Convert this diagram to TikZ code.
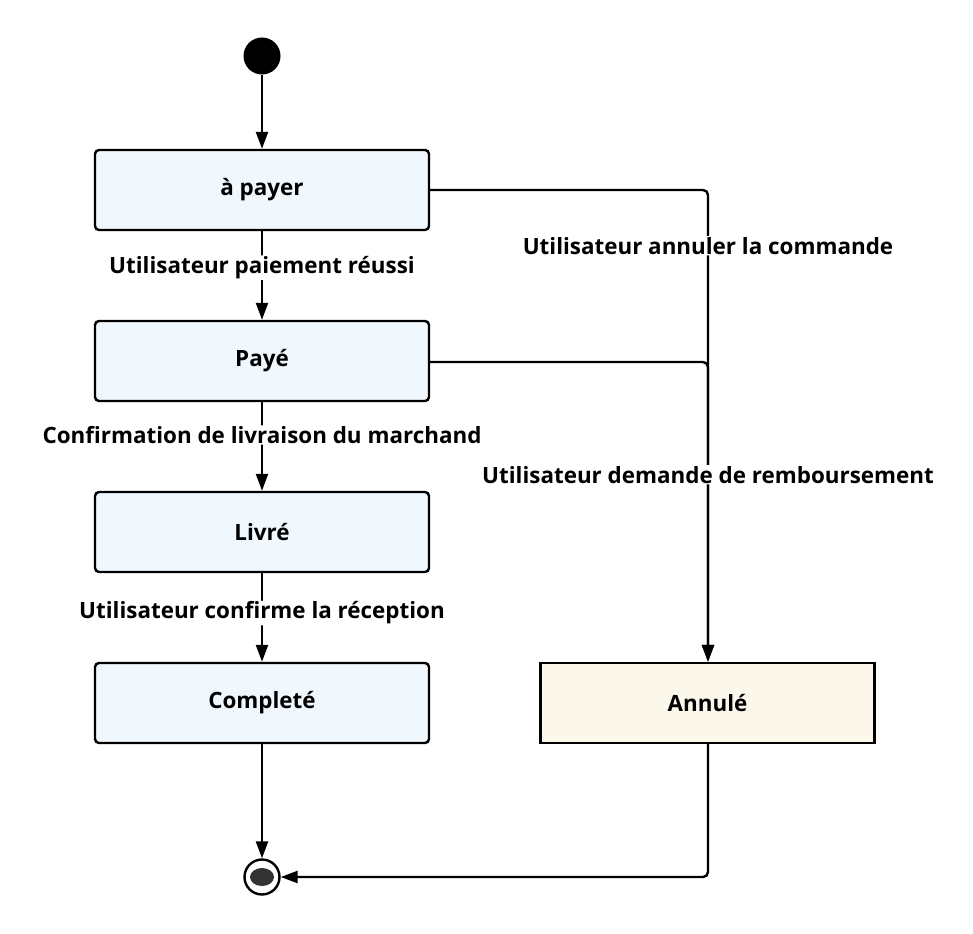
\documentclass[tikz,border=0pt]{standalone}
\usepackage{fontspec}
\setmainfont{Open Sans}
\usetikzlibrary{arrows.meta}
\definecolor{boxblue}{HTML}{F0F7FD}
\definecolor{boxcream}{HTML}{FBF7EA}
\definecolor{enddark}{HTML}{333333}
\tikzset{
  statebox/.style={draw=black, line width=2.4pt, minimum width=334pt, minimum height=80pt, font=\bfseries\fontsize{22.4}{26}\selectfont, inner sep=0pt},
  bluebox/.style={statebox, fill=boxblue, rounded corners=4pt},
  creambox/.style={statebox, fill=boxcream},
  conn/.style={line width=2.4pt, -{Triangle[length=17pt,width=12pt]}, rounded corners=5pt},
  lbl/.style={fill=white, inner sep=1pt, font=\bfseries\fontsize{22.4}{26}\selectfont}
}
\begin{document}
\begin{tikzpicture}[x=1pt,y=-1pt]
\useasboundingbox (0,0) rectangle (973,933);
\node[circle, fill=black, minimum size=37pt, inner sep=0pt] (start) at (262,56) {};
\node[bluebox] (apayer) at (262,190) {à payer};
\node[bluebox] (paye) at (262,361) {Payé};
\node[bluebox] (livre) at (262,532) {Livré};
\node[bluebox] (complete) at (262,703) {Completé};
\node[creambox] (annule) at (707.5,703) {Annulé};
\node[circle, draw=black, line width=2.4pt, minimum size=35pt, inner sep=0pt] (end) at (262,877) {};
\fill[enddark] (end.center) ellipse (12pt and 9pt);

\draw[conn] (start) -- (apayer);
\draw[conn] (apayer) -- node[lbl, pos=0.41] {Utilisateur paiement réussi} (paye);
\draw[conn] (paye) -- node[lbl, pos=0.37] {Confirmation de livraison du marchand} (livre);
\draw[conn] (livre) -- node[lbl, pos=0.45] {Utilisateur confirme la réception} (complete);
\draw[conn] (complete) -- (end);

\coordinate (c1) at (708,190);
\coordinate (c2) at (708,362);
\coordinate (c3) at (708,877);
\draw[conn] (apayer.east) -- (c1) -- node[lbl, pos=0.118] {Utilisateur annuler la commande} (annule.north -| c1);
\draw[conn] (paye.east |- c2) -- (c2) -- node[lbl, pos=0.376] {Utilisateur demande de remboursement} (annule.north -| c2);
\draw[conn] (annule.south -| c3) -- (c3) -- (end.east);
\end{tikzpicture}
\end{document}
